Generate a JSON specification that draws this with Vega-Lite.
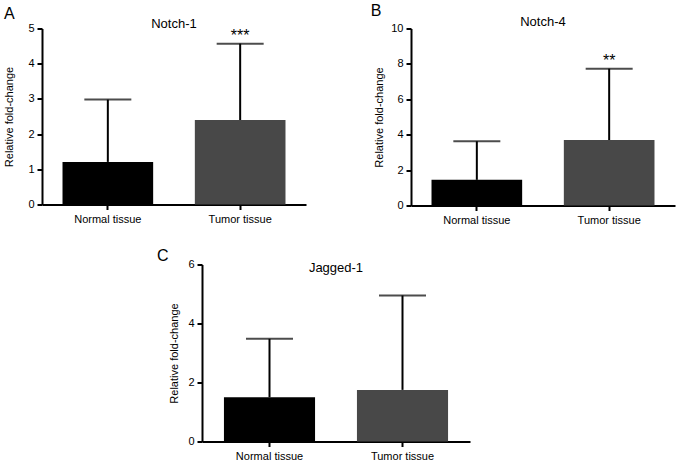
{
  "$schema": "https://vega.github.io/schema/vega-lite/v6.json",
  "padding": {"left": 3, "top": 2.5, "right": 4, "bottom": 2},
  "background": "white",
  "config": {
    "font": "Liberation Sans",
    "view": {"stroke": null},
    "axis": {
      "domainColor": "black", "domainWidth": 2, "tickColor": "black", "tickWidth": 2, "tickSize": 5,
      "labelColor": "black", "labelFontSize": 11, "labelFont": "Liberation Sans", "labelPadding": 3,
      "titleFontSize": 11, "titleFontWeight": "normal", "titleColor": "black", "titleFont": "Liberation Sans",
      "grid": false, "labelOverlap": false
    },
    "title": {"fontSize": 13, "fontWeight": "normal", "color": "black", "font": "Liberation Sans"}
  },
  "datasets": {
    "notch1": [
      {"group": "Normal tissue", "mean": 1.21, "upper": 2.98, "sig": ""},
      {"group": "Tumor tissue", "mean": 2.40, "upper": 4.57, "sig": "***"}
    ],
    "notch4": [
      {"group": "Normal tissue", "mean": 1.45, "upper": 3.63, "sig": ""},
      {"group": "Tumor tissue", "mean": 3.70, "upper": 7.73, "sig": "**"}
    ],
    "jagged1": [
      {"group": "Normal tissue", "mean": 1.50, "upper": 3.48, "sig": ""},
      {"group": "Tumor tissue", "mean": 1.75, "upper": 4.95, "sig": ""}
    ]
  },
  "spacing": 22,
  "vconcat": [
    {
      "spacing": 64,
      "hconcat": [
        {
          "title": {"text": "A", "anchor": "start", "frame": "bounds", "fontSize": 16, "offset": -4},
          "vconcat": [
            {
              "title": {"text": "Notch-1", "offset": -8.7},
              "width": 264, "height": 176,
              "data": {"name": "notch1"},
              "encoding": {
                "x": {"field": "group", "type": "nominal", "sort": null,
                      "scale": {"paddingInner": 0.315, "paddingOuter": 0.155},
                      "axis": {"title": null, "labelAngle": 0, "labelPadding": 4}}
              },
              "layer": [
                {"mark": {"type": "bar"},
                 "encoding": {
                   "y": {"field": "mean", "type": "quantitative", "scale": {"domain": [0, 5]},
                         "axis": {"title": "Relative fold-change", "values": [0, 1, 2, 3, 4, 5], "titlePadding": 13}},
                   "color": {"field": "group", "type": "nominal", "scale": {"range": ["#000000", "#484848"]}, "legend": null}}},
                {"mark": {"type": "rule", "strokeWidth": 2, "color": "black"},
                 "encoding": {
                   "y": {"field": "mean", "type": "quantitative", "scale": {"domain": [0, 5]},
                         "axis": {"title": "Relative fold-change", "values": [0, 1, 2, 3, 4, 5], "titlePadding": 13}},
                   "y2": {"field": "upper"}}},
                {"mark": {"type": "tick", "thickness": 2, "size": 47, "color": "black"},
                 "encoding": {
                   "y": {"field": "upper", "type": "quantitative", "scale": {"domain": [0, 5]},
                         "axis": {"title": "Relative fold-change", "values": [0, 1, 2, 3, 4, 5], "titlePadding": 13}}}},
                {"mark": {"type": "text", "baseline": "alphabetic", "dy": -3, "fontSize": 16, "color": "black"},
                 "encoding": {
                   "y": {"field": "upper", "type": "quantitative", "scale": {"domain": [0, 5]},
                         "axis": {"title": "Relative fold-change", "values": [0, 1, 2, 3, 4, 5], "titlePadding": 13}},
                   "text": {"field": "sig"}}}
              ]
            }
          ]
        },
        {
          "title": {"text": "B", "anchor": "start", "frame": "bounds", "fontSize": 16, "offset": -3, "dx": -3},
          "vconcat": [
            {
              "title": {"text": "Notch-4", "offset": -6},
              "width": 264, "height": 177,
              "data": {"name": "notch4"},
              "encoding": {
                "x": {"field": "group", "type": "nominal", "sort": null,
                      "scale": {"paddingInner": 0.315, "paddingOuter": 0.155},
                      "axis": {"title": null, "labelAngle": 0, "labelPadding": 4}}
              },
              "layer": [
                {"mark": {"type": "bar"},
                 "encoding": {
                   "y": {"field": "mean", "type": "quantitative", "scale": {"domain": [0, 10]},
                         "axis": {"title": "Relative fold-change", "values": [0, 2, 4, 6, 8, 10], "titlePadding": 6}},
                   "color": {"field": "group", "type": "nominal", "scale": {"range": ["#000000", "#484848"]}, "legend": null}}},
                {"mark": {"type": "rule", "strokeWidth": 2, "color": "black"},
                 "encoding": {
                   "y": {"field": "mean", "type": "quantitative", "scale": {"domain": [0, 10]},
                         "axis": {"title": "Relative fold-change", "values": [0, 2, 4, 6, 8, 10], "titlePadding": 6}},
                   "y2": {"field": "upper"}}},
                {"mark": {"type": "tick", "thickness": 2, "size": 47, "color": "black"},
                 "encoding": {
                   "y": {"field": "upper", "type": "quantitative", "scale": {"domain": [0, 10]},
                         "axis": {"title": "Relative fold-change", "values": [0, 2, 4, 6, 8, 10], "titlePadding": 6}}}},
                {"mark": {"type": "text", "baseline": "alphabetic", "dy": -3, "fontSize": 16, "color": "black"},
                 "encoding": {
                   "y": {"field": "upper", "type": "quantitative", "scale": {"domain": [0, 10]},
                         "axis": {"title": "Relative fold-change", "values": [0, 2, 4, 6, 8, 10], "titlePadding": 6}},
                   "text": {"field": "sig"}}}
              ]
            }
          ]
        }
      ]
    },
    {
      "spacing": 0,
      "hconcat": [
        {"width": 114, "height": 10, "data": {"values": []}, "mark": "point"},
        {
          "title": {"text": "C", "anchor": "start", "frame": "bounds", "fontSize": 16, "offset": -5, "dx": -12},
          "vconcat": [
            {
              "title": {"text": "Jagged-1", "offset": -16.5},
              "width": 268, "height": 177,
              "data": {"name": "jagged1"},
              "encoding": {
                "x": {"field": "group", "type": "nominal", "sort": null,
                      "scale": {"paddingInner": 0.315, "paddingOuter": 0.165},
                      "axis": {"title": null, "labelAngle": 0, "labelPadding": 4}}
              },
              "layer": [
                {"mark": {"type": "bar"},
                 "encoding": {
                   "y": {"field": "mean", "type": "quantitative", "scale": {"domain": [0, 6]},
                         "axis": {"title": "Relative fold-change", "values": [0, 2, 4, 6], "titlePadding": 8}},
                   "color": {"field": "group", "type": "nominal", "scale": {"range": ["#000000", "#484848"]}, "legend": null}}},
                {"mark": {"type": "rule", "strokeWidth": 2, "color": "black"},
                 "encoding": {
                   "y": {"field": "mean", "type": "quantitative", "scale": {"domain": [0, 6]},
                         "axis": {"title": "Relative fold-change", "values": [0, 2, 4, 6], "titlePadding": 8}},
                   "y2": {"field": "upper"}}},
                {"mark": {"type": "tick", "thickness": 2, "size": 47, "color": "black"},
                 "encoding": {
                   "y": {"field": "upper", "type": "quantitative", "scale": {"domain": [0, 6]},
                         "axis": {"title": "Relative fold-change", "values": [0, 2, 4, 6], "titlePadding": 8}}}}
              ]
            }
          ]
        }
      ]
    }
  ]
}
